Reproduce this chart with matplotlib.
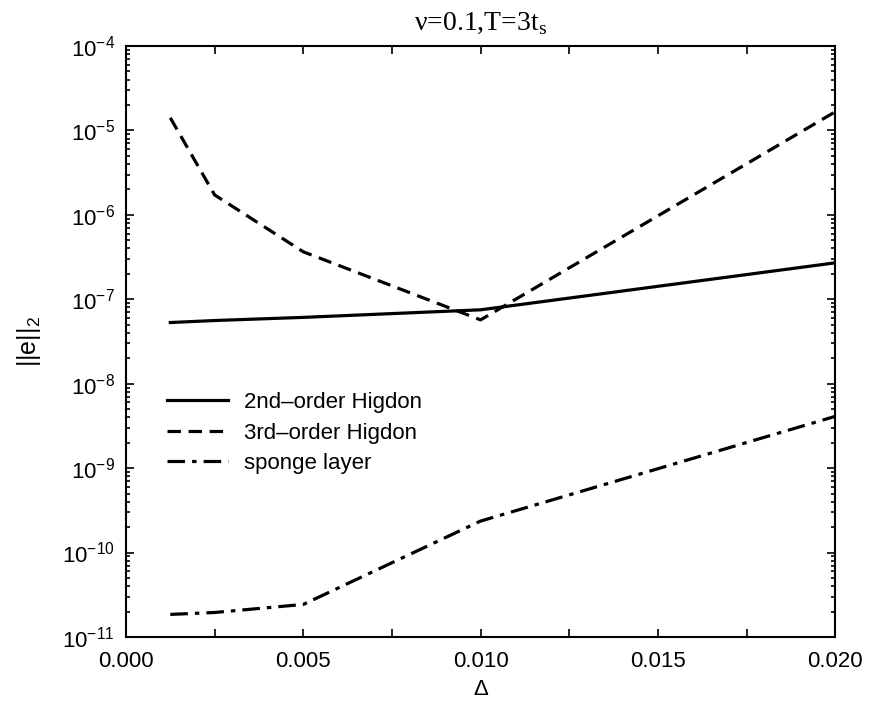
import matplotlib
matplotlib.use("Agg")
import matplotlib.pyplot as plt
from matplotlib.ticker import MultipleLocator, FuncFormatter, LogLocator, NullFormatter

plt.rcParams['font.family'] = ['Liberation Sans', 'DejaVu Sans']
plt.rcParams['mathtext.fontset'] = 'custom'
plt.rcParams['mathtext.rm'] = 'Liberation Sans'
plt.rcParams['mathtext.it'] = 'Liberation Sans'
plt.rcParams['mathtext.bf'] = 'Liberation Sans:bold'

# grid spacing values
delta = [0.00125, 0.0025, 0.005, 0.01, 0.02]

# L2 error for each boundary treatment
higdon2 = [5.3e-8, 5.6e-8, 6.1e-8, 7.5e-8, 2.7e-7]
higdon3 = [1.41e-5, 1.72e-6, 3.65e-7, 5.7e-8, 1.66e-5]
sponge = [1.85e-11, 1.95e-11, 2.43e-11, 2.36e-10, 4.1e-9]

labels = ["2nd\u2013order Higdon", "3rd\u2013order Higdon", "sponge layer"]

fig = plt.figure(figsize=(8.81, 7.04), dpi=100)
ax = fig.add_axes([0.143, 0.0952, 0.805, 0.8395])

lw = 2.3
ax.plot(delta, higdon2, color='black', lw=lw, linestyle='-', label=labels[0])
ax.plot(delta, higdon3, color='black', lw=lw, linestyle=(0, (4.2, 2.4)), label=labels[1])
ax.plot(delta, sponge, color='black', lw=lw, linestyle=(0, (5.5, 2.2, 1.4, 2.2)), label=labels[2])

ax.set_yscale('log')
ax.set_xlim(0.0, 0.02)
ax.set_ylim(1e-11, 1e-4)

ax.xaxis.set_major_locator(MultipleLocator(0.005))
ax.xaxis.set_minor_locator(MultipleLocator(0.0025))
ax.xaxis.set_major_formatter(FuncFormatter(lambda v, p: f"{v:.3f}"))
ax.yaxis.set_major_locator(LogLocator(base=10, numticks=20))
ax.yaxis.set_minor_locator(LogLocator(base=10, subs=range(2, 10), numticks=20))
ax.yaxis.set_minor_formatter(NullFormatter())

ax.tick_params(which='both', direction='in', top=True, right=True, width=1.2)
ax.tick_params(axis='x', which='major', length=6, labelsize=16, pad=10)
ax.tick_params(axis='x', which='minor', length=6)
ax.tick_params(axis='y', which='major', length=6, labelsize=16, pad=8)
ax.tick_params(axis='y', which='minor', length=3)
for s in ax.spines.values():
    s.set_linewidth(1.5)

ax.set_xlabel("\u0394", fontsize=16, labelpad=5)
ax.set_ylabel("||e||$_2$", fontsize=18, labelpad=14)
ax.set_title("\u03bd=0.1,T=3t$_\\mathregular{s}$", fontsize=20,
             family=['Liberation Serif', 'DejaVu Serif'], pad=12)

leg = ax.legend(loc='center left', bbox_to_anchor=(0.03, 0.345), frameon=False,
                fontsize=16, handlelength=2.75, handletextpad=0.7,
                labelspacing=0.42)

fig.savefig("out.png", dpi=100)
